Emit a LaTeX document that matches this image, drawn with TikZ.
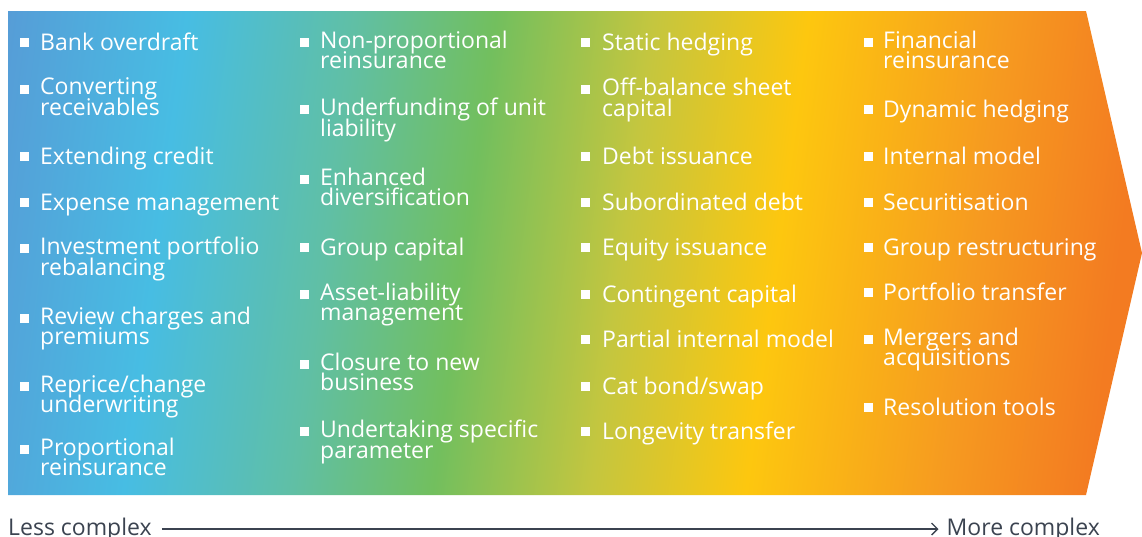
\documentclass[tikz,border=0pt]{standalone}
\usepackage{fontspec}
\setmainfont{Open Sans}
\usetikzlibrary{arrows.meta}
\setlength{\lineskiplimit}{-50pt}
\definecolor{cblue}{HTML}{569DD7}
\definecolor{clight}{HTML}{47BDE3}
\definecolor{cteal}{HTML}{60BFA5}
\definecolor{cgreen}{HTML}{72BF5E}
\definecolor{colive}{HTML}{C4C63F}
\definecolor{cyellow}{HTML}{FDC70F}
\definecolor{corange}{HTML}{F69A20}
\definecolor{cdeep}{HTML}{F37B21}
\definecolor{slate}{HTML}{3B4350}
\pgfdeclarehorizontalshading{complexity}{100bp}{color(0bp)=(cblue); color(21.9bp)=(cblue);
  color(30.3bp)=(clight); color(38.2bp)=(cteal); color(44.8bp)=(cgreen); color(52.2bp)=(colive);
  color(59.5bp)=(cyellow); color(68.8bp)=(corange); color(75.6bp)=(cdeep); color(100bp)=(cdeep)}
\tikzset{
	item/.style={anchor=north west, align=left, inner sep=0pt, text=white,
		font=\fontsize{23}{20.7}\selectfont, execute at begin node=\rule{0pt}{20pt}},
	axislabel/.style={inner sep=0pt, text=slate, font=\fontsize{23}{20.7}\selectfont},
	axisline/.style={slate, line width=1.3pt, shorten <=10pt, shorten >=8pt,
		-{Straight Barb[length=6pt,width=12pt]}}
}
\begin{document}
\begin{tikzpicture}[x=1pt,y=-1pt]
	\useasboundingbox (0,0) rectangle (1142,536);
	\shade[shading=complexity, shading angle=-7.54] (8,11) -- (1086,11) -- (1142,253) -- (1086,495) -- (8,495) -- cycle;
	% first column
	\foreach \y/\t [count=\i] in {33/Bank overdraft, 80/{Converting\\receivables}, 147/Extending credit,
		193/Expense management, 239/{Investment portfolio\\rebalancing}, 309/{Review charges and\\premiums},
		377/{Reprice/change\\underwriting}, 440/{Proportional\\reinsurance}}{
		\node[item] (a\i) at (40,\y-2.5) {\t};
		\fill[white] ([shift={(-20,7.5)}]a\i.north west) rectangle ++(9,9);
	}
	% second column
	\foreach \y/\t [count=\i] in {33/{Non-proportional\\reinsurance}, 100/{Underfunding of unit\\liability},
		170/{Enhanced\\diversification}, 238/Group capital, 285/{Asset-liability\\management},
		355/{Closure to new\\business}, 422/{Undertaking specific\\parameter}}{
		\node[item] (b\i) at (320,\y-2.5) {\t};
		\fill[white] ([shift={(-20,7.5)}]b\i.north west) rectangle ++(9,9);
	}
	% third column
	\foreach \y/\t [count=\i] in {33/Static hedging, 80/{Off-balance sheet\\capital}, 147/Debt issuance,
		193/Subordinated debt, 238/Equity issuance, 285/Contingent capital, 330/Partial internal model,
		377/{Cat bond/swap}, 422/Longevity transfer}{
		\node[item] (c\i) at (602,\y-2.5) {\t};
		\fill[white] ([shift={(-21,7.5)}]c\i.north west) rectangle ++(9,9);
	}
	% fourth column
	\foreach \y/\t [count=\i] in {33/{Financial\\reinsurance}, 100/Dynamic hedging, 147/Internal model,
		193/Securitisation, 238/Group restructuring, 283/Portfolio transfer,
		330/{Mergers and\\acquisitions}, 398/Resolution tools}{
		\node[item] (d\i) at (883,\y-2.5) {\t};
		\fill[white] ([shift={(-19,7.5)}]d\i.north west) rectangle ++(9,9);
	}
	\node[axislabel, anchor=base west] (less) at (8,535) {Less complex};
	\node[axislabel, anchor=base east] (more) at (1100,535) {More complex};
	\draw[axisline] (less) -- (more);
\end{tikzpicture}
\end{document}
